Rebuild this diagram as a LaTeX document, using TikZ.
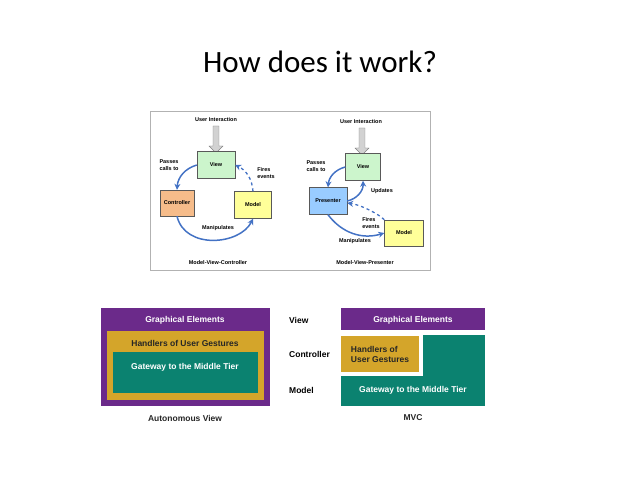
\documentclass[tikz,border=0pt]{standalone}
\usepackage{fontspec}
\setmainfont{Carlito}
\newfontfamily\lsans{Liberation Sans}
\usetikzlibrary{arrows.meta,shapes.arrows}
\definecolor{vgreen}{HTML}{CCF5CC}
\definecolor{corange}{HTML}{F6BC8A}
\definecolor{myellow}{HTML}{FFFF99}
\definecolor{pblue}{HTML}{99CCFF}
\definecolor{ablue}{HTML}{4372C4}
\definecolor{purp}{HTML}{6B2A8A}
\definecolor{gold}{HTML}{D4A52A}
\definecolor{teal2}{HTML}{0B8270}
\tikzset{
 box/.style={draw=gray!70!black,line width=0.4pt,minimum width=#1,inner sep=0pt,font=\lsans\bfseries\fontsize{5.5}{6.5}\selectfont},
 box/.default=36pt,
 lab/.style={font=\lsans\bfseries\fontsize{5.5}{6.5}\selectfont,align=left,inner sep=0pt},
 flow/.style={ablue,line width=1.5pt,-{Stealth[length=6pt,width=6pt]}},
 dflow/.style={flow,dashed,line width=1.3pt},
 band/.style={inner sep=0pt,font=\lsans\bfseries\fontsize{8.5}{10}\selectfont},
 side/.style={font=\lsans\bfseries\fontsize{8.5}{9}\selectfont,anchor=west,inner sep=0pt},
 uarrow/.style={single arrow,draw=gray,fill=gray!35,minimum width=14pt,single arrow head extend=3pt,shape border rotate=270,minimum height=27pt,inner sep=2pt}
}
\begin{document}
\begin{tikzpicture}[x=1pt,y=-1pt]
\useasboundingbox (0,0) rectangle (638,478);
\node (title) at (320,62) {\fontsize{31}{36}\selectfont How does it work?};
% top frame
\draw[gray!60,line width=0.8pt] (150,111) rectangle (430,270);
% MVC
\node[lab] (ui1) at (216,120) {User Interaction};
\node[uarrow] (ua1) at (216,138) {};
\node[box,fill=vgreen,minimum width=38pt,minimum height=27pt] (v1) at (216,165) {View};
\node[box,fill=corange,minimum width=34pt,minimum height=26pt] (c1) at (177,203) {Controller};
\node[box,fill=myellow,minimum width=37pt,minimum height=27pt] (m1) at (253,205) {Model};
\node[lab] at (169,165) {Passes\\calls to};
\node[lab] at (266,173) {Fires\\events};
\node[lab] at (218,228) {Manipulates};
\node[lab] (t1) at (218,263) {Model-View-Controller};
\draw[flow] (v1.west) to[bend right=35] (c1.north);
\draw[flow] (c1.south) .. controls (185,250) and (240,245) .. (m1.south);
\draw[dflow] (m1.north) to[bend right=30] (v1.east);
% MVP
\node[lab] (ui2) at (361,122) {User Interaction};
\node[uarrow] (ua2) at (362,140) {};
\node[box,fill=vgreen,minimum width=35pt,minimum height=27pt] (v2) at (363,167) {View};
\node[box,fill=pblue,minimum width=38pt,minimum height=27pt] (p2) at (328,201) {Presenter};
\node[box,fill=myellow,minimum width=39pt,minimum height=26pt] (m2) at (404,233) {Model};
\node[lab] at (316,166) {Passes\\calls to};
\node[lab] at (382,191) {Updates};
\node[lab] at (371,223) {Fires\\events};
\node[lab] at (355,241) {Manipulates};
\node[lab] (t2) at (365,263) {Model-View-Presenter};
\draw[flow] (v2.west) to[bend right=35] (p2.north);
\draw[flow] (p2.east) to[bend right=40] (v2.south);
\draw[flow] (p2.south) to[bend right=35] (m2.west);
\draw[dflow] (m2.north west) .. controls (380,215) and (362,205) .. ([yshift=-2pt]p2.east);
% Autonomous view
\fill[purp] (101,308) rectangle (270,406);
\fill[gold] (107,331) rectangle (264,400);
\fill[teal2] (113,352) rectangle (258,393);
\node[band,white] (g1) at (185,320) {Graphical Elements};
\node[band,black!85] (h1) at (185,343) {Handlers of User Gestures};
\node[band,white] (w1) at (185,367) {Gateway to the Middle Tier};
\node[band,black!85] (av) at (185,418) {Autonomous View};
% MVC bottom
\node[side] (sv) at (289,320) {View};
\node[side] (sc) at (289,354) {Controller};
\node[side] (sm) at (289,390) {Model};
\fill[purp] (341,308) rectangle (485,330);
\fill[teal2] (341,335) rectangle (485,406);
\fill[white] (338,333) rectangle (423,376);
\fill[gold] (341,336) rectangle (419,372);
\node[band,white] (g2) at (413,320) {Graphical Elements};
\node[band,black!85,align=left] (h2) at (380,354) {Handlers of\\User Gestures};
\node[band,white] (w2) at (413,390) {Gateway to the Middle Tier};
\node[band,black!85] (mvc) at (413,418) {MVC};
\end{tikzpicture}
\end{document}
